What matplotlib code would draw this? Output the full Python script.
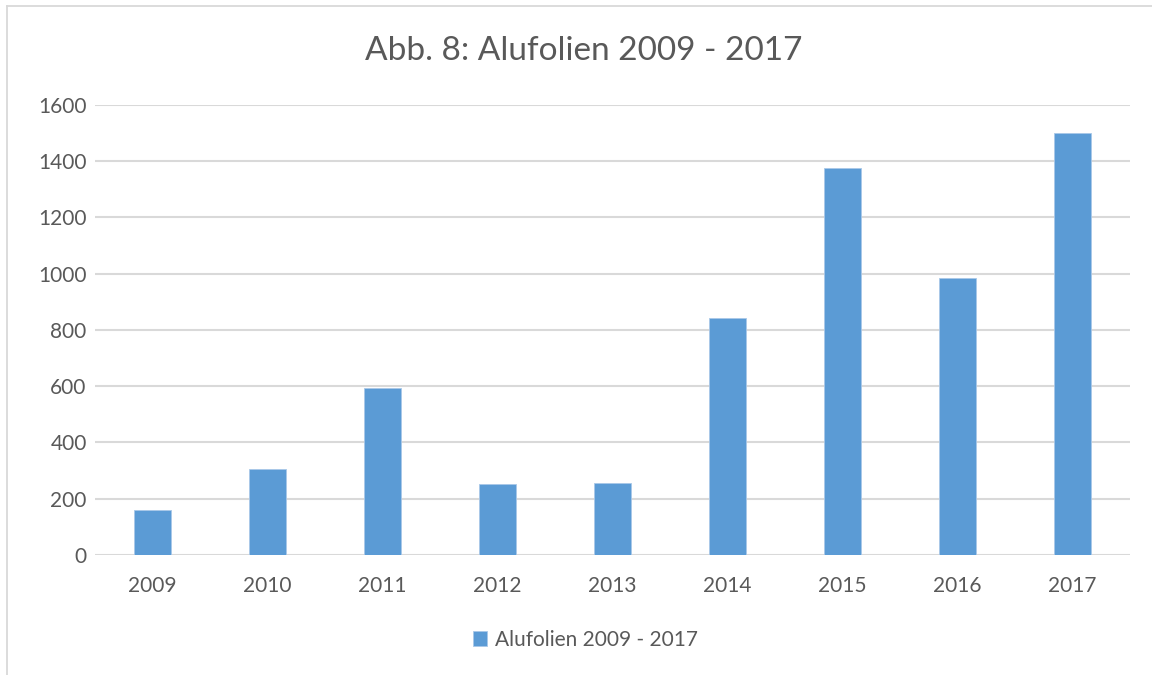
import matplotlib.pyplot as plt
from matplotlib.lines import Line2D

# data
years = ["2009", "2010", "2011", "2012", "2013", "2014", "2015", "2016", "2017"]
values = [158, 306, 592, 252, 254, 843, 1375, 985, 1500]
series_name = "Alufolien 2009 - 2017"

plt.rcParams["font.family"] = ["Lato", "DejaVu Sans"]
text_color = "#595959"

fig = plt.figure(figsize=(11.52, 6.75), dpi=100)
ax = fig.add_axes([0.0825, 0.178, 0.8985, 0.6664])

# chart border (top and left only are visible)
bx, by = 7 / 1152, 1 - 6 / 675
fig.lines.append(Line2D([bx, 1.0], [by, by], transform=fig.transFigure,
                        color="#d9d9d9", linewidth=1.3))
fig.lines.append(Line2D([bx, bx], [0.0, by], transform=fig.transFigure,
                        color="#d9d9d9", linewidth=1.3))

x = range(len(years))
ax.bar(x, values, width=0.32, color="#5b9bd5", edgecolor="#a9c8e8",
       linewidth=0.6, label=series_name, zorder=3)

ax.set_xlim(-0.5, len(years) - 0.5)
ax.set_ylim(0, 1600)
ax.set_yticks(range(0, 1601, 200))
ax.set_xticks(list(x))
ax.set_xticklabels(years)
ax.grid(axis="y", color="#d9d9d9", linewidth=1.5, zorder=0)
for s in ax.spines.values():
    s.set_visible(False)
ax.tick_params(axis="both", length=0, labelsize=15, colors=text_color)
ax.tick_params(axis="x", pad=15)
ax.tick_params(axis="y", pad=6)

fig.text(0.507, 0.924, "Abb. 8: Alufolien 2009 - 2017", ha="center", va="center",
         fontsize=24, color=text_color)

fig.legend(loc="center", bbox_to_anchor=(0.508, 0.052), frameon=False,
           fontsize=15, labelcolor=text_color, handlelength=0.7,
           handleheight=0.7, handletextpad=0.35)

fig.savefig("out.png", dpi=100)
